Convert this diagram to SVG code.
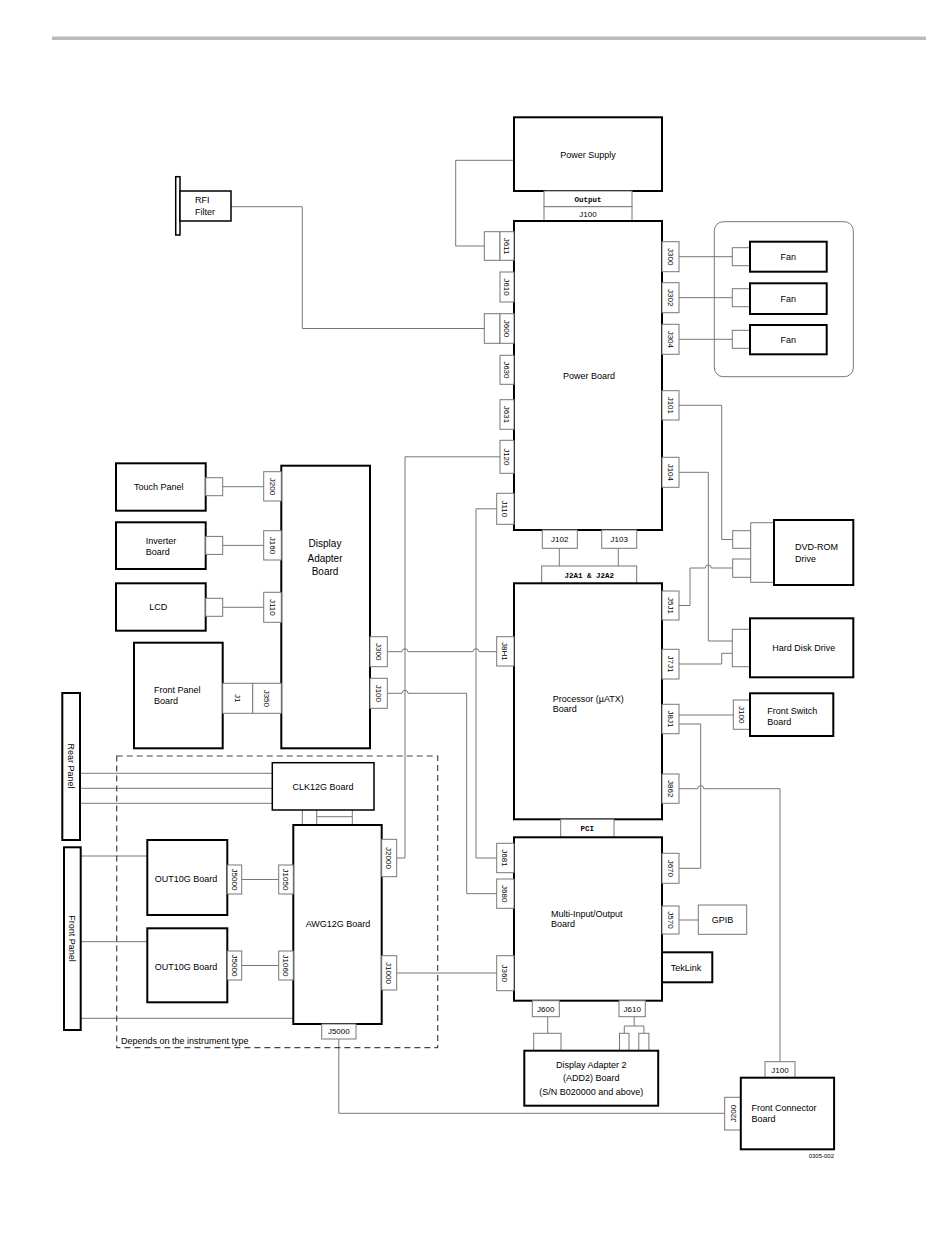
<svg xmlns="http://www.w3.org/2000/svg" width="950" height="1260" viewBox="0 0 950 1260">
<style>
.b{fill:#fff;stroke:#000;stroke-width:2}
.b1{fill:#fff;stroke:#000;stroke-width:1.5}
.c{fill:#fff;stroke:#777;stroke-width:1}
.w{fill:none;stroke:#777;stroke-width:1}
.d{fill:none;stroke:#444;stroke-width:1.2;stroke-dasharray:6,4}
text{font-family:"Liberation Sans",Arial,sans-serif;font-size:9px;fill:#000}
.j{font-size:8px;text-anchor:middle}
.m{font-family:"Liberation Mono",monospace;font-size:7.5px;font-weight:bold;text-anchor:middle}
.mid{text-anchor:middle}
</style>
<rect x="0" y="0" width="950" height="1260" fill="#fff"/>
<rect x="52" y="36.5" width="874" height="3.5" fill="#bbb"/>

<g id="connectors">
<path class="w" d="M514,160.3 H455.7 V246 H484.3"/>
<path class="w" d="M231,206.7 H302.3 V328.5 H484.3"/>
<path class="w" d="M679,256.7 H732.3"/>
<path class="w" d="M679,297.7 H732.3"/>
<path class="w" d="M679,339.3 H732.3"/>
<path class="w" d="M679,405.3 H721.7 V539.5 H732.7"/>
<path class="w" d="M679,472.3 H708.3 V641 H732.3"/>
<path class="w" d="M679,605.5 H690 V568 H705.3 a3,3 0 0 1 6,0 H732.7"/>
<path class="w" d="M679,664 H721.7 V653.3 H732.3"/>
<path class="w" d="M679,715 H733.3"/>
<path class="w" d="M679,724 H700.7 V868.3 H679"/>
<path class="w" d="M679,788.7 H697.7 a3,3 0 0 1 6,0 H780 V1061.7"/>
<path class="w" d="M500,456.8 H405 V858 H396.7"/>
<path class="w" d="M496.7,508.8 H476 V858 H496.7"/>
<path class="w" d="M387.3,651.7 H402 a3,3 0 0 1 6,0 H473 a3,3 0 0 1 6,0 H496.7"/>
<path class="w" d="M387.3,693.3 H402 a3,3 0 0 1 6,0 H466.7 V893.7 H496.7"/>
<path class="w" d="M396.7,973 H496.7"/>
<path class="w" d="M679,920 H698.3"/>
<path class="w" d="M338.8,1039 V1113.3 H724.7"/>
<path class="w" d="M547.7,1016.7 V1033.3"/>
<path class="w" d="M634.2,1016.7 V1026 M624.3,1033.3 V1026 H643.9 V1033.3"/>
<path class="w" d="M559.3,548.3 V566 M618.3,548.3 V566"/>
<path class="w" d="M302.3,810 V825 M316.7,810 V825 M352.3,810 V825 M316.7,816.7 H352.3"/>
<path class="w" d="M222.7,486.7 H263.7 M222.7,545.4 H263.7 M222.7,607.3 H263.7"/>
<path class="w" d="M80,773.3 H272.3 M80,788.3 H272.3 M80,803.3 H272.3"/>
<path class="w" d="M80.7,856 H147.3 M80.7,941.7 H147.3 M80.7,1018.3 H293.3"/>
<path class="w" d="M241.7,879.5 H278.7 M241.7,965.5 H278.7"/>
</g>

<g id="power-supply">
<rect class="b" x="514" y="117.3" width="148" height="73.7"/>
<text class="mid" x="588" y="158">Power Supply</text>
<rect class="c" x="544" y="191" width="88" height="15.7"/>
<text class="m" x="588" y="201.7">Output</text>
<rect class="c" x="544" y="206.7" width="88" height="14.3"/>
<text class="j" x="588" y="216.5">J100</text>
</g>

<g id="rfi-filter">
<rect x="175.7" y="176.7" width="4.3" height="58.3" fill="#fff" stroke="#000" stroke-width="1.5"/>
<rect class="b1" x="180" y="191" width="51" height="30"/>
<text x="195" y="203">RFI</text>
<text x="195" y="215">Filter</text>
</g>

<g id="power-board">
<rect class="b" x="514" y="221" width="148" height="309"/>
<text class="mid" x="589" y="379">Power Board</text>
<rect class="c" x="484.3" y="231.7" width="15.7" height="28.6"/>
<rect class="c" x="500" y="231.7" width="14" height="28.6"/>
<text class="j" transform="translate(507,246) rotate(90)" dy=".35em">J611</text>
<rect class="c" x="500" y="272" width="14" height="30"/>
<text class="j" transform="translate(507,287) rotate(90)" dy=".35em">J610</text>
<rect class="c" x="484.3" y="313.7" width="15.7" height="29.6"/>
<rect class="c" x="500" y="313.7" width="14" height="29.6"/>
<text class="j" transform="translate(507,328.5) rotate(90)" dy=".35em">J600</text>
<rect class="c" x="500" y="355.3" width="14" height="29"/>
<text class="j" transform="translate(507,369.8) rotate(90)" dy=".35em">J630</text>
<rect class="c" x="500" y="399.7" width="14" height="29.6"/>
<text class="j" transform="translate(507,414.5) rotate(90)" dy=".35em">J631</text>
<rect class="c" x="500" y="440.3" width="14" height="33"/>
<text class="j" transform="translate(507,456.8) rotate(90)" dy=".35em">J120</text>
<rect class="c" x="496.7" y="493.3" width="17.3" height="31"/>
<text class="j" transform="translate(505.3,508.8) rotate(90)" dy=".35em">J110</text>
<rect class="c" x="662" y="241.7" width="17" height="30"/>
<text class="j" transform="translate(670.5,256.7) rotate(90)" dy=".35em">J300</text>
<rect class="c" x="662" y="282.7" width="17" height="30"/>
<text class="j" transform="translate(670.5,297.7) rotate(90)" dy=".35em">J302</text>
<rect class="c" x="662" y="324.3" width="17" height="30"/>
<text class="j" transform="translate(670.5,339.3) rotate(90)" dy=".35em">J304</text>
<rect class="c" x="662" y="390.7" width="17" height="29.3"/>
<text class="j" transform="translate(670.5,405.3) rotate(90)" dy=".35em">J101</text>
<rect class="c" x="662" y="457.3" width="17" height="30"/>
<text class="j" transform="translate(670.5,472.3) rotate(90)" dy=".35em">J104</text>
<rect class="c" x="542.3" y="530" width="35" height="18.3"/>
<text class="j" x="559.8" y="542">J102</text>
<rect class="c" x="601.7" y="530" width="35" height="18.3"/>
<text class="j" x="619.2" y="542">J103</text>
</g>

<g id="fans">
<rect x="714.3" y="221.7" width="139" height="155" rx="9" fill="none" stroke="#777" stroke-width="1"/>
<rect class="c" x="732.3" y="247.7" width="17.7" height="18"/>
<rect class="b" x="750" y="241.7" width="76.7" height="30"/>
<text class="mid" x="788.3" y="260">Fan</text>
<rect class="c" x="732.3" y="288.7" width="17.7" height="18"/>
<rect class="b" x="750" y="283.3" width="76.7" height="30.7"/>
<text class="mid" x="788.3" y="301.8">Fan</text>
<rect class="c" x="732.3" y="330.3" width="17.7" height="18"/>
<rect class="b" x="750" y="325" width="76.7" height="29.3"/>
<text class="mid" x="788.3" y="343">Fan</text>
</g>

<g id="dvd-rom">
<rect class="c" x="732.7" y="530.7" width="18" height="17.6"/>
<rect class="c" x="732.7" y="559" width="18" height="18.3"/>
<rect class="c" x="750.7" y="522.7" width="23.3" height="59.6"/>
<rect class="b" x="774" y="520" width="79.3" height="65"/>
<text x="795" y="550">DVD-ROM</text>
<text x="795" y="562">Drive</text>
</g>

<g id="hard-disk">
<rect class="c" x="732.3" y="629.3" width="17.7" height="37.4"/>
<rect class="b" x="750" y="618.3" width="103.3" height="59"/>
<text class="mid" x="803.8" y="651">Hard Disk Drive</text>
</g>

<g id="front-switch">
<rect class="c" x="733.3" y="700" width="16.7" height="29.3"/>
<text class="j" transform="translate(741.7,714.7) rotate(90)" dy=".35em">J100</text>
<rect class="b" x="750" y="693.3" width="83.3" height="42.7"/>
<text x="767.3" y="714">Front Switch</text>
<text x="767.3" y="724.5">Board</text>
</g>

<g id="processor">
<rect class="c" x="541.7" y="566" width="95" height="17.3"/>
<text class="m" x="589.2" y="577.5">J2A1 &amp; J2A2</text>
<rect class="b" x="514" y="583.3" width="148" height="236"/>
<text x="552.7" y="701.5">Processor (µATX)</text>
<text x="552.7" y="711.5">Board</text>
<rect class="c" x="496.7" y="636.7" width="17.3" height="29.3"/>
<text class="j" transform="translate(505.3,651.4) rotate(90)" dy=".35em">J8H1</text>
<rect class="c" x="662" y="591" width="17" height="29"/>
<text class="j" transform="translate(670.5,605.5) rotate(90)" dy=".35em">J5J1</text>
<rect class="c" x="662" y="649.3" width="17" height="29.7"/>
<text class="j" transform="translate(670.5,664) rotate(90)" dy=".35em">J7J1</text>
<rect class="c" x="662" y="704.3" width="17" height="29.4"/>
<text class="j" transform="translate(670.5,719) rotate(90)" dy=".35em">J8J1</text>
<rect class="c" x="662" y="774" width="17" height="29.3"/>
<text class="j" transform="translate(670.5,788.7) rotate(90)" dy=".35em">J862</text>
<rect class="c" x="560.7" y="819.3" width="53.3" height="18"/>
<text class="m" x="587.3" y="831">PCI</text>
</g>

<g id="mio">
<rect class="b" x="514" y="837.3" width="148" height="163.4"/>
<text x="551" y="916.5">Multi-Input/Output</text>
<text x="551" y="927">Board</text>
<rect class="c" x="496.7" y="843.3" width="17.3" height="29.4"/>
<text class="j" transform="translate(505.3,858) rotate(90)" dy=".35em">J681</text>
<rect class="c" x="496.7" y="879" width="17.3" height="29.3"/>
<text class="j" transform="translate(505.3,893.7) rotate(90)" dy=".35em">J680</text>
<rect class="c" x="496.7" y="955.7" width="17.3" height="35"/>
<text class="j" transform="translate(505.3,973.2) rotate(90)" dy=".35em">J360</text>
<rect class="c" x="662" y="853.3" width="17" height="30"/>
<text class="j" transform="translate(670.5,868.3) rotate(90)" dy=".35em">J670</text>
<rect class="c" x="662" y="906" width="17" height="28"/>
<text class="j" transform="translate(670.5,920) rotate(90)" dy=".35em">J570</text>
<rect class="c" x="532.3" y="1000.7" width="27" height="16"/>
<text class="j" x="545.8" y="1011.5">J600</text>
<rect class="c" x="619" y="1000.7" width="26.3" height="16"/>
<text class="j" x="632.2" y="1011.5">J610</text>
</g>

<g id="gpib">
<rect class="c" x="698.3" y="905" width="48.4" height="29.3"/>
<text class="mid" x="722.5" y="923">GPIB</text>
</g>

<g id="teklink">
<rect class="b" x="662" y="952.3" width="50.3" height="30"/>
<text class="mid" x="686" y="970.5">TekLink</text>
</g>

<g id="add2">
<rect class="c" x="533.7" y="1033.3" width="27.3" height="17.4"/>
<rect class="c" x="619.5" y="1033.3" width="9.5" height="17.4"/>
<rect class="c" x="638.8" y="1033.3" width="10.1" height="17.4"/>
<rect class="b" x="524.3" y="1050.7" width="133.9" height="55"/>
<text class="mid" x="591.3" y="1067.5">Display Adapter 2</text>
<text class="mid" x="591.3" y="1081">(ADD2) Board</text>
<text class="mid" x="591.3" y="1094.5">(S/N B020000 and above)</text>
</g>

<g id="front-connector">
<rect class="c" x="765" y="1061.7" width="30" height="16"/>
<text class="j" x="780" y="1072.5">J100</text>
<rect class="c" x="724.7" y="1097.3" width="16.1" height="32.7"/>
<text class="j" transform="translate(732.7,1113.6) rotate(-90)" dy=".35em">J200</text>
<rect class="b" x="740.8" y="1077.7" width="93.3" height="71.6"/>
<text x="751.5" y="1110.5">Front Connector</text>
<text x="751.5" y="1122">Board</text>
<text x="834" y="1158" text-anchor="end" style="font-size:6px">0305-002</text>
</g>

<g id="touch-panel">
<rect class="b" x="116" y="463.3" width="89.7" height="47.4"/>
<rect class="c" x="205.7" y="477.7" width="17" height="18"/>
<text class="mid" x="158.8" y="490">Touch Panel</text>
</g>

<g id="inverter">
<rect class="b" x="116" y="522.3" width="89.7" height="46.7"/>
<rect class="c" x="205.7" y="536.4" width="17" height="18"/>
<text x="145.7" y="543.5">Inverter</text>
<text x="145.7" y="554.5">Board</text>
</g>

<g id="lcd">
<rect class="b" x="116" y="583.3" width="89.7" height="47.4"/>
<rect class="c" x="205.7" y="598.3" width="17" height="18"/>
<text class="mid" x="158.3" y="610.3">LCD</text>
</g>

<g id="front-panel-board">
<rect class="b" x="134" y="642.7" width="88.7" height="105.6"/>
<text x="154" y="693">Front Panel</text>
<text x="154" y="703.5">Board</text>
<rect class="c" x="222.7" y="683.3" width="30" height="30"/>
<text class="j" transform="translate(237.7,698.3) rotate(90)" dy=".35em">J1</text>
</g>

<g id="display-adapter">
<rect class="b" x="281.3" y="465.7" width="88.7" height="282.6"/>
<text class="mid" x="325" y="546.5" style="font-size:10px">Display</text>
<text class="mid" x="325" y="561.5" style="font-size:10px">Adapter</text>
<text class="mid" x="325" y="575" style="font-size:10px">Board</text>
<rect class="c" x="263.7" y="471.7" width="17.6" height="29.3"/>
<text class="j" transform="translate(272.5,486.4) rotate(90)" dy=".35em">J200</text>
<rect class="c" x="263.7" y="530.7" width="17.6" height="29.3"/>
<text class="j" transform="translate(272.5,545.4) rotate(90)" dy=".35em">J160</text>
<rect class="c" x="263.7" y="592.3" width="17.6" height="30"/>
<text class="j" transform="translate(272.5,607.3) rotate(90)" dy=".35em">J110</text>
<rect class="c" x="252.7" y="683.3" width="28.6" height="30"/>
<text class="j" transform="translate(267,698.3) rotate(90)" dy=".35em">J350</text>
<rect class="c" x="370" y="636.7" width="17.3" height="30"/>
<text class="j" transform="translate(378.7,651.7) rotate(90)" dy=".35em">J300</text>
<rect class="c" x="370" y="678.3" width="17.3" height="30"/>
<text class="j" transform="translate(378.7,693.3) rotate(90)" dy=".35em">J100</text>
</g>

<g id="rear-panel">
<rect class="b" x="62.3" y="693" width="17.7" height="147"/>
<text class="mid" transform="translate(71.2,766) rotate(90)" dy=".35em">Rear Panel</text>
</g>

<g id="front-panel">
<rect class="b" x="64" y="847.3" width="16.7" height="182.7"/>
<text class="mid" transform="translate(72.3,938.5) rotate(90)" dy=".35em">Front Panel</text>
</g>

<g id="instrument-type">
<rect class="d" x="116.7" y="756" width="321" height="291.7"/>
<text x="121" y="1043.5">Depends on the instrument type</text>
</g>

<g id="clk12g">
<rect class="b1" x="272.3" y="762.7" width="101.7" height="47.3"/>
<text class="mid" x="323" y="790">CLK12G Board</text>
</g>

<g id="out10g-1">
<rect class="b" x="147.3" y="840" width="80" height="75"/>
<text class="mid" x="186" y="882">OUT10G Board</text>
<rect class="c" x="227.3" y="865" width="14.4" height="29"/>
<text class="j" transform="translate(234.5,879.5) rotate(90)" dy=".35em">J5000</text>
</g>

<g id="out10g-2">
<rect class="b" x="147.3" y="928.3" width="80" height="74"/>
<text class="mid" x="186" y="970">OUT10G Board</text>
<rect class="c" x="227.3" y="951" width="14.4" height="29"/>
<text class="j" transform="translate(234.5,965.5) rotate(90)" dy=".35em">J5000</text>
</g>

<g id="awg12g">
<rect class="b" x="293.3" y="825" width="88.4" height="199"/>
<text class="mid" x="338" y="927">AWG12G Board</text>
<rect class="c" x="278.7" y="865" width="14.6" height="29"/>
<text class="j" transform="translate(286,879.5) rotate(90)" dy=".35em">J1050</text>
<rect class="c" x="278.7" y="951" width="14.6" height="29"/>
<text class="j" transform="translate(286,965.5) rotate(90)" dy=".35em">J1060</text>
<rect class="c" x="381.7" y="839.3" width="15" height="37.4"/>
<text class="j" transform="translate(389.2,858) rotate(90)" dy=".35em">J2000</text>
<rect class="c" x="381.7" y="955.7" width="15" height="34.3"/>
<text class="j" transform="translate(389.2,973) rotate(90)" dy=".35em">J1000</text>
<rect class="c" x="321.7" y="1024" width="34.3" height="15"/>
<text class="j" x="338.8" y="1034.3">J5000</text>
</g>
</svg>
